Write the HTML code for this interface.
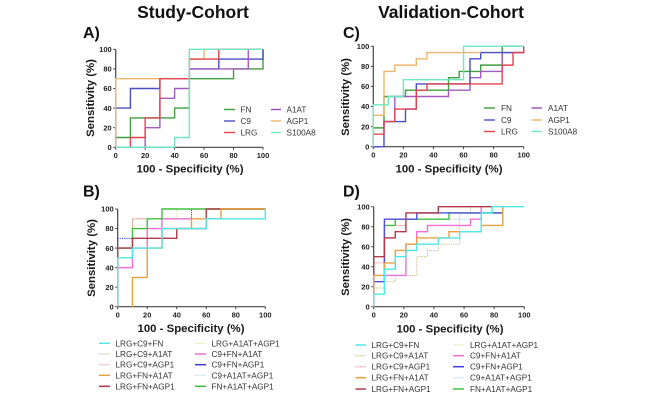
<!DOCTYPE html>
<html lang="en">
<head>
<meta charset="utf-8">
<title>ROC curves: Study-Cohort and Validation-Cohort</title>
<style>
html,body{margin:0;padding:0;background:#fff;width:669px;height:401px;overflow:hidden}
svg{display:block;filter:blur(.35px)}
text{font-family:"Liberation Sans",sans-serif;fill:#222}
.h{font-size:17.5px;font-weight:700;text-anchor:middle;fill:#111}
.p{font-size:16px;font-weight:700;fill:#111}
.at{font-size:11.4px;font-weight:700;text-anchor:middle;fill:#1a1a1a}
.lg{font-size:8.2px;fill:#333}
.tk{font-size:7.5px;font-weight:700;fill:#222}
</style>
</head>
<body>
<svg id="figure" width="669" height="401" viewBox="0 0 669 401" xmlns="http://www.w3.org/2000/svg">
<rect width="669" height="401" fill="#fff"/>
<text class="h" x="193" y="18">Study-Cohort</text>
<text class="h" x="451" y="18">Validation-Cohort</text>
<text class="p" x="83" y="38">A)</text>
<text class="p" x="83" y="196.7">B)</text>
<text class="p" x="343" y="38">C)</text>
<text class="p" x="343" y="196.7">D)</text>

<text class="at" transform="translate(94,98) rotate(-90)">Sensitivity (%)</text>
<text class="at" x="190" y="172.7">100 - Specificity (%)</text>
<text class="at" transform="translate(95,258) rotate(-90)">Sensitivity (%)</text>
<text class="at" x="191" y="332">100 - Specificity (%)</text>
<text class="at" transform="translate(349,97) rotate(-90)">Sensitivity (%)</text>
<text class="at" x="449" y="172.7">100 - Specificity (%)</text>
<text class="at" transform="translate(349,257) rotate(-90)">Sensitivity (%)</text>
<text class="at" x="450" y="332.3">100 - Specificity (%)</text>

<g id="marks"></g>

<g>
<line x1="224" x2="235" y1="109.5" y2="109.5" stroke="#3f9e3f" stroke-width="1.4"/><text class="lg" x="240.5" y="112.5">FN</text>
<line x1="224" x2="235" y1="121" y2="121" stroke="#4a4fc4" stroke-width="1.4"/><text class="lg" x="240.5" y="124">C9</text>
<line x1="224" x2="235" y1="132.5" y2="132.5" stroke="#e0454f" stroke-width="1.4"/><text class="lg" x="240.5" y="135.5">LRG</text>
<line x1="271" x2="281" y1="109.5" y2="109.5" stroke="#9b4db5" stroke-width="1.4"/><text class="lg" x="286.5" y="112.5">A1AT</text>
<line x1="271" x2="281" y1="121" y2="121" stroke="#f0b56e" stroke-width="1.4"/><text class="lg" x="286.5" y="124">AGP1</text>
<line x1="271" x2="281" y1="132.5" y2="132.5" stroke="#6fe6c4" stroke-width="1.4"/><text class="lg" x="286.5" y="135.5">S100A8</text>
</g>
<g>
<line x1="484" x2="495" y1="108" y2="108" stroke="#3f9e3f" stroke-width="1.4"/><text class="lg" x="501" y="111">FN</text>
<line x1="484" x2="495" y1="120" y2="120" stroke="#4a4fc4" stroke-width="1.4"/><text class="lg" x="501" y="123">C9</text>
<line x1="484" x2="495" y1="131.5" y2="131.5" stroke="#e0454f" stroke-width="1.4"/><text class="lg" x="501" y="134.5">LRG</text>
<line x1="531.5" x2="542" y1="108" y2="108" stroke="#9b4db5" stroke-width="1.4"/><text class="lg" x="548" y="111">A1AT</text>
<line x1="531.5" x2="542" y1="120" y2="120" stroke="#f0b56e" stroke-width="1.4"/><text class="lg" x="548" y="123">AGP1</text>
<line x1="531.5" x2="542" y1="131.5" y2="131.5" stroke="#6fe6c4" stroke-width="1.4"/><text class="lg" x="548" y="134.5">S100A8</text>
</g>
<g>
<line x1="99" x2="110" y1="343.3" y2="343.3" stroke="#4fe8e8" stroke-width="1.5"/><text class="lg" x="115.5" y="346.3">LRG+C9+FN</text>
<line x1="99" x2="110" y1="354" y2="354" stroke="#c9b48a" stroke-width="1" stroke-dasharray="1.2 1"/><text class="lg" x="115.5" y="357">LRG+C9+A1AT</text>
<line x1="99" x2="110" y1="364.7" y2="364.7" stroke="#e08a8a" stroke-width="1" stroke-dasharray="1.2 1"/><text class="lg" x="115.5" y="367.7">LRG+C9+AGP1</text>
<line x1="99" x2="110" y1="375.3" y2="375.3" stroke="#e8a040" stroke-width="1.5"/><text class="lg" x="115.5" y="378.3">LRG+FN+A1AT</text>
<line x1="99" x2="110" y1="386.3" y2="386.3" stroke="#b03a4a" stroke-width="1.5"/><text class="lg" x="115.5" y="389.3">LRG+FN+AGP1</text>
<line x1="195" x2="206" y1="343.3" y2="343.3" stroke="#d8d890" stroke-width="1" stroke-dasharray="1.2 1"/><text class="lg" x="211.5" y="346.3">LRG+A1AT+AGP1</text>
<line x1="195" x2="206" y1="354" y2="354" stroke="#ee70d8" stroke-width="1.5"/><text class="lg" x="211.5" y="357">C9+FN+A1AT</text>
<line x1="195" x2="206" y1="364.7" y2="364.7" stroke="#3a3ae0" stroke-width="1.5"/><text class="lg" x="211.5" y="367.7">C9+FN+AGP1</text>
<line x1="195" x2="206" y1="375.3" y2="375.3" stroke="#a0d0e8" stroke-width="1" stroke-dasharray="1.2 1"/><text class="lg" x="211.5" y="378.3">C9+A1AT+AGP1</text>
<line x1="195" x2="206" y1="386.3" y2="386.3" stroke="#40c040" stroke-width="1.5"/><text class="lg" x="211.5" y="389.3">FN+A1AT+AGP1</text>
</g>
<g>
<line x1="355.5" x2="366" y1="345" y2="345" stroke="#4fe8e8" stroke-width="1.5"/><text class="lg" x="371.5" y="348">LRG+C9+FN</text>
<line x1="355.5" x2="366" y1="355.7" y2="355.7" stroke="#c9b48a" stroke-width="1" stroke-dasharray="1.2 1"/><text class="lg" x="371.5" y="358.7">LRG+C9+A1AT</text>
<line x1="355.5" x2="366" y1="366.7" y2="366.7" stroke="#e08a8a" stroke-width="1" stroke-dasharray="1.2 1"/><text class="lg" x="371.5" y="369.7">LRG+C9+AGP1</text>
<line x1="355.5" x2="366" y1="377.7" y2="377.7" stroke="#e8a040" stroke-width="1.5"/><text class="lg" x="371.5" y="380.7">LRG+FN+A1AT</text>
<line x1="355.5" x2="366" y1="389" y2="389" stroke="#b03a4a" stroke-width="1.5"/><text class="lg" x="371.5" y="392">LRG+FN+AGP1</text>
<line x1="453" x2="464" y1="345" y2="345" stroke="#d8d890" stroke-width="1" stroke-dasharray="1.2 1"/><text class="lg" x="470" y="348">LRG+A1AT+AGP1</text>
<line x1="453" x2="464" y1="355.7" y2="355.7" stroke="#ee70d8" stroke-width="1.5"/><text class="lg" x="470" y="358.7">C9+FN+A1AT</text>
<line x1="453" x2="464" y1="366.7" y2="366.7" stroke="#3a3ae0" stroke-width="1.5"/><text class="lg" x="470" y="369.7">C9+FN+AGP1</text>
<line x1="453" x2="464" y1="377.7" y2="377.7" stroke="#a0d0e8" stroke-width="1" stroke-dasharray="1.2 1"/><text class="lg" x="470" y="380.7">C9+A1AT+AGP1</text>
<line x1="453" x2="464" y1="389" y2="389" stroke="#40c040" stroke-width="1.5"/><text class="lg" x="470" y="392">FN+A1AT+AGP1</text>
</g>
</svg>
<script>
const tickValues = [0, 20, 40, 60, 80, 100];

// Panel A
const aFnX = [0,0,10,10,40,40,50,50,80,80,100,100];
const aFnY = [0,10,10,30,30,40,40,70,70,80,80,100];
const aC9X = [0,0,10,10,30,30,50,50,70,70,100,100];
const aC9Y = [0,40,40,60,60,70,70,80,80,90,90,100];
const aLrgX = [10,10,20,20,30,30,50,50,70,70,100];
const aLrgY = [0,10,10,30,30,70,70,90,90,100,100];
const aA1atX = [20,20,30,30,40,40,50,50,90,90,100];
const aA1atY = [0,20,20,50,50,60,60,80,80,100,100];
const aAgp1X = [0,0,50,50,60,60,100];
const aAgp1Y = [0,70,70,90,90,100,100];
const aS100X = [0,40,40,50,50,100];
const aS100Y = [0,0,10,10,100,100];

// Panel C
const cFnX = [0,0,7.1,7.1,21.4,21.4,50,50,57.1,57.1,71.4,71.4,85.7,85.7,100];
const cFnY = [0,18.75,18.75,50,50,56.25,56.25,68.75,68.75,75,75,81.25,81.25,100,100];
const cC9X = [0,7.1,7.1,21.4,21.4,28.6,28.6,35.7,35.7,64.3,64.3,71.4,71.4,100,100];
const cC9Y = [0,0,25,25,37.5,37.5,62.5,62.5,62.5,62.5,87.5,87.5,93.75,93.75,100];
const cLrgX = [0,0,7.1,7.1,14.3,14.3,28.6,28.6,35.7,35.7,85.7,85.7,92.9,92.9,100,100];
const cLrgY = [0,12.5,12.5,25,25,37.5,37.5,56.25,56.25,62.5,62.5,81.25,81.25,93.75,93.75,100];
const cA1atX = [7.1,14.3,14.3,50,50,64.3,64.3,71.4,71.4,85.7,85.7,100];
const cA1atY = [25,25,50,50,56.25,56.25,68.75,68.75,75,75,93.75,93.75];
const cAgp1X = [0,0,7.1,7.1,14.3,14.3,28.6,28.6,35.7,35.7,71.4];
const cAgp1Y = [0,31.25,31.25,75,75,81.25,81.25,87.5,87.5,93.75,93.75];
const cS100X = [0,0,10,10,20,20,60,60,100];
const cS100Y = [0,41.7,41.7,50,50,66.7,66.7,100,100];

// Panel B
const bLc9fnX = [0,0,10,10,30,30,60,60,100,100];
const bLc9fnY = [0,50,50,60,60,80,80,90,90,100];
const bLc9a1X = [0,10,10,30,30,100];
const bLc9a1Y = [50,50,90,90,100,100];
const bLc9agX = [0,0,10,10,20,20,30,30];
const bLc9agY = [0,60,60,90,90,90,90,100];
const bLfna1X = [10,10,20,20,30,30,50,50,70,70,100];
const bLfna1Y = [0,30,30,60,60,80,80,90,90,100,100];
const bLfnagX = [0,0,10,10,40,40,60,60,100];
const bLfnagY = [0,60,60,70,70,80,80,100,100];
const bLa1agX = [10,10,40,40,100];
const bLa1agY = [60,90,90,100,100];
const bC9a1fX = [0,0,10,10,20,20,30,30,50];
const bC9a1fY = [0,40,40,60,60,80,80,90,90];
const bC9agfX = [0,0,10,10,30,30,50,50,60];
const bC9agfY = [0,70,70,80,80,90,90,100,100];
const bC9a1aX = [0,10,10,30,30,50,50];
const bC9a1aY = [70,70,80,80,90,90,100];
const bFna1aX = [0,0,10,10,20,20,30,30,100];
const bFna1aY = [0,60,60,80,80,90,90,100,100];

// Panel D
const dLc9fnX = [0,0,7.1,7.1,14.3,14.3,21.4,21.4,28.6,28.6,42.9,42.9,57.1,57.1,71.4,71.4,78.6,78.6,100];
const dLc9fnY = [0,12.5,12.5,37.5,37.5,50,50,56.25,56.25,62.5,62.5,68.75,68.75,75,75,93.75,93.75,100,100];
const dLc9a1X = [0,7.1,7.1,14.3,14.3,28.6,28.6,35.7,35.7,42.9,42.9,57.1,57.1,64.3,64.3,71.4];
const dLc9a1Y = [18.75,18.75,25,25,31.25,31.25,50,50,56.25,56.25,62.5,62.5,93.75,93.75,100,100];
const dLc9agX = [0,7.1,7.1,21.4,21.4,42.9];
const dLc9agY = [43.75,43.75,81.25,81.25,93.75,93.75];
const dLfna1X = [0,0,7.1,7.1,14.3,14.3,21.4,21.4,28.6,28.6,50,50,71.4,71.4,85.7,85.7];
const dLfna1Y = [0,31.25,31.25,43.75,43.75,56.25,56.25,62.5,62.5,68.75,68.75,75,75,81.25,81.25,100];
const dLfnagX = [0,0,7.1,7.1,14.3,14.3,21.4,21.4,42.9,42.9,78.6];
const dLfnagY = [0,50,50,68.75,68.75,75,75,93.75,93.75,100,100];
const dLa1agX = [42.9,42.9,64.3];
const dLa1agY = [87.5,93.75,93.75];
const dC9a1fX = [7.1,21.4,21.4,28.6,28.6,35.7,35.7,64.3,64.3,71.4,71.4];
const dC9a1fY = [31.25,31.25,62.5,62.5,75,75,81.25,81.25,87.5,87.5,100];
const dC9agfX = [0,0,7.1,7.1,28.6,28.6,85.7];
const dC9agfY = [0,25,25,87.5,87.5,93.75,93.75];
const dC9a1aX = [7.1,21.4,21.4,64.3];
const dC9a1aY = [81.25,81.25,87.5,87.5];
const dFna1aX = [7.1,7.1,14.3,14.3,50,50,85.7];
const dFna1aY = [25,81.25,81.25,87.5,87.5,93.75,93.75];

const NS = 'http://www.w3.org/2000/svg';
const marksRoot = document.getElementById('marks');

function scaleX(p, v) { return p.x0 + (p.x1 - p.x0) * v / 100; }
function scaleY(p, v) { return p.y0 + (p.y1 - p.y0) * v / 100; }

function drawAxes(p) {
  const g = document.createElementNS(NS, 'g');
  
  
  const xAxis = document.createElementNS(NS, 'line');
  
  
  xAxis.setAttribute('x1', p.x0);
  xAxis.setAttribute('x2', p.x1);
  xAxis.setAttribute('y1', p.y0);
  xAxis.setAttribute('y2', p.y0);
  xAxis.setAttribute('stroke', '#444');
  xAxis.setAttribute('stroke-width', '1.2');
  g.appendChild(xAxis);
  const yAxis = document.createElementNS(NS, 'line');
  
  
  yAxis.setAttribute('x1', p.x0);
  yAxis.setAttribute('x2', p.x0);
  yAxis.setAttribute('y1', p.y0);
  yAxis.setAttribute('y2', p.y1);
  yAxis.setAttribute('stroke', '#444');
  yAxis.setAttribute('stroke-width', '1.2');
  g.appendChild(yAxis);
  tickValues.forEach(function (t) {
    const xTick = document.createElementNS(NS, 'line');
    
    
    xTick.setAttribute('x1', scaleX(p, t));
    xTick.setAttribute('x2', scaleX(p, t));
    xTick.setAttribute('y1', p.y0);
    xTick.setAttribute('y2', p.y0 + 2.5);
    xTick.setAttribute('stroke', '#444');
    xTick.setAttribute('stroke-width', '1');
    g.appendChild(xTick);
    const xLabel = document.createElementNS(NS, 'text');
    
    
    xLabel.setAttribute('class', 'tk');
    xLabel.setAttribute('x', scaleX(p, t));
    xLabel.setAttribute('y', p.y0 + 10.6);
    xLabel.setAttribute('text-anchor', 'middle');
    xLabel.textContent = t;
    g.appendChild(xLabel);
    const yTick = document.createElementNS(NS, 'line');
    
    
    yTick.setAttribute('x1', p.x0 - 2.5);
    yTick.setAttribute('x2', p.x0);
    yTick.setAttribute('y1', scaleY(p, t));
    yTick.setAttribute('y2', scaleY(p, t));
    yTick.setAttribute('stroke', '#444');
    yTick.setAttribute('stroke-width', '1');
    g.appendChild(yTick);
    const yLabel = document.createElementNS(NS, 'text');
    
    
    yLabel.setAttribute('class', 'tk');
    yLabel.setAttribute('x', p.x0 - 4);
    yLabel.setAttribute('y', scaleY(p, t) + 2.7);
    yLabel.setAttribute('text-anchor', 'end');
    yLabel.textContent = t;
    g.appendChild(yLabel);
  });
  marksRoot.appendChild(g);
}

function drawSeries(p, s) {
  const d = s.xs.map(function (x, i) {
    return (i ? 'L' : 'M') + scaleX(p, x).toFixed(2) + ' ' + scaleY(p, s.ys[i]).toFixed(2);
  }).join('');
  const path = document.createElementNS(NS, 'path');
  
  
  path.setAttribute('d', d);
  path.setAttribute('fill', 'none');
  path.setAttribute('stroke', s.color);
  path.setAttribute('stroke-width', s.dotted ? '0.9' : '1.4');
  if (s.dotted) path.setAttribute('stroke-dasharray', '1.2 1');
  marksRoot.appendChild(path);
}

const panels = [
  { key: 'panel-a', x0: 115.7, x1: 263, y0: 147.3, y1: 49.3, series: [
    { name: 'fn', xs: aFnX, ys: aFnY, color: '#3f9e3f' },
    { name: 'c9', xs: aC9X, ys: aC9Y, color: '#4a4fc4' },
    { name: 'a1at', xs: aA1atX, ys: aA1atY, color: '#a25cc0' },
    { name: 'agp1', xs: aAgp1X, ys: aAgp1Y, color: '#f0b56e' },
    { name: 'lrg', xs: aLrgX, ys: aLrgY, color: '#e0454f' },
    { name: 's100a8', xs: aS100X, ys: aS100Y, color: '#6fe6c4' }
  ]},
  { key: 'panel-c', x0: 373.3, x1: 523.7, y0: 146.7, y1: 46.3, series: [
    { name: 'fn', xs: cFnX, ys: cFnY, color: '#3f9e3f' },
    { name: 'a1at', xs: cA1atX, ys: cA1atY, color: '#a25cc0' },
    { name: 'c9', xs: cC9X, ys: cC9Y, color: '#4a4fc4' },
    { name: 'lrg', xs: cLrgX, ys: cLrgY, color: '#e0454f' },
    { name: 'agp1', xs: cAgp1X, ys: cAgp1Y, color: '#f0b56e' },
    { name: 's100a8', xs: cS100X, ys: cS100Y, color: '#6fe6c4' }
  ]},
  { key: 'panel-b', x0: 117.7, x1: 265.3, y0: 306.7, y1: 209, series: [
    { name: 'lrg-a1at-agp1', xs: bLa1agX, ys: bLa1agY, color: '#d8d890', dotted: true },
    { name: 'c9-a1at-agp1', xs: bC9a1aX, ys: bC9a1aY, color: '#a0d0e8', dotted: true },
    { name: 'lrg-c9-a1at', xs: bLc9a1X, ys: bLc9a1Y, color: '#c9b48a', dotted: true },
    { name: 'lrg-c9-agp1', xs: bLc9agX, ys: bLc9agY, color: '#e08a8a', dotted: true },
    { name: 'c9-fn-agp1', xs: bC9agfX, ys: bC9agfY, color: '#3a3ae0', dotted: true },
    { name: 'c9-fn-a1at', xs: bC9a1fX, ys: bC9a1fY, color: '#ee70d8' },
    { name: 'fn-a1at-agp1', xs: bFna1aX, ys: bFna1aY, color: '#40c040' },
    { name: 'lrg-fn-agp1', xs: bLfnagX, ys: bLfnagY, color: '#b03a4a' },
    { name: 'lrg-fn-a1at', xs: bLfna1X, ys: bLfna1Y, color: '#e8a040' },
    { name: 'lrg-c9-fn', xs: bLc9fnX, ys: bLc9fnY, color: '#4fe8e8' }
  ]},
  { key: 'panel-d', x0: 373.7, x1: 524.3, y0: 306.7, y1: 206.7, series: [
    { name: 'lrg-a1at-agp1', xs: dLa1agX, ys: dLa1agY, color: '#d8d890', dotted: true },
    { name: 'c9-a1at-agp1', xs: dC9a1aX, ys: dC9a1aY, color: '#a0d0e8', dotted: true },
    { name: 'lrg-c9-a1at', xs: dLc9a1X, ys: dLc9a1Y, color: '#c9b48a', dotted: true },
    { name: 'lrg-c9-agp1', xs: dLc9agX, ys: dLc9agY, color: '#e08a8a', dotted: true },
    { name: 'fn-a1at-agp1', xs: dFna1aX, ys: dFna1aY, color: '#40c040' },
    { name: 'c9-fn-agp1', xs: dC9agfX, ys: dC9agfY, color: '#5050d8' },
    { name: 'c9-fn-a1at', xs: dC9a1fX, ys: dC9a1fY, color: '#ee70d8' },
    { name: 'lrg-fn-agp1', xs: dLfnagX, ys: dLfnagY, color: '#b03a4a' },
    { name: 'lrg-fn-a1at', xs: dLfna1X, ys: dLfna1Y, color: '#e8a040' },
    { name: 'lrg-c9-fn', xs: dLc9fnX, ys: dLc9fnY, color: '#4fe8e8' }
  ]}
];

panels.forEach(function (p) {
  drawAxes(p);
  p.series.forEach(function (s) { drawSeries(p, s); });
});
</script>
</body>
</html>
